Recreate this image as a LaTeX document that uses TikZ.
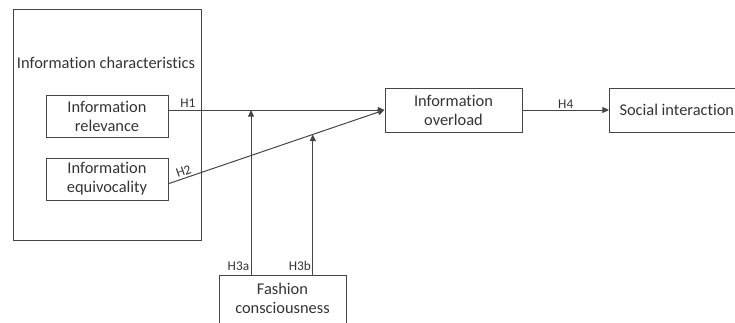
\documentclass[tikz,border=0pt]{standalone}
\usepackage{fontspec}
\setmainfont{Carlito}[Ligatures=NoCommon]
\usetikzlibrary{arrows.meta,positioning,calc}
\definecolor{lineg}{HTML}{454545}
\definecolor{textg}{HTML}{333333}

\begin{document}
\begin{tikzpicture}[
 x=0.75pt,y=-0.75pt,
 box/.style={rectangle,draw=lineg,line width=0.75pt,align=center,inner sep=0pt,text=textg,font=\fontsize{12.3}{14.3}\selectfont},
 var/.style={box,minimum width=91.5pt,minimum height=31.5pt},
 lbl/.style={text=textg,font=\fontsize{10}{12}\selectfont,inner sep=1.5pt},
 arr/.style={-{Triangle[length=5pt,width=4.5pt]},draw=lineg,line width=0.75pt}
]
\useasboundingbox (0,0) rectangle (735,322);
\node[box,minimum width=141pt,minimum height=173.25pt] (chars) at (107,124.5) {};
\node[text=textg,font=\fontsize{12.3}{14.3}\selectfont,inner sep=0pt] (charstitle) at (106,63) {Information characteristics};
\node[var] (rel) at (107,116) {Information\\relevance};
\node[var] (equ) at (107,179) {Information\\equivocality};
\node[box,minimum width=102.75pt,minimum height=33pt] (over) at (453.5,110) {Information\\overload};
\node[box,minimum width=101pt,minimum height=33pt,anchor=west,append after command={}] (soc) at (609,110) {Social interaction};
\node[box,minimum width=95.25pt,minimum height=40pt,anchor=north,text depth=6pt] (fash) at (282.5,275) {Fashion\\consciousness};

\coordinate (h2start) at ($(equ.east)+(0,-3.5pt)$);
\path (rel.east |- over.west) -- (over.west) coordinate[pos=0.382] (m1);
\path (h2start) -- (over.west) coordinate[pos=0.668] (m2);

\draw[arr] (rel.east |- over.west) -- node[lbl,above,pos=0.09]{H1} (over.west);
\draw[arr] (h2start) -- node[lbl,above,sloped,pos=0.08]{H2} (over.west);
\draw[arr] (m1 |- fash.north) -- node[lbl,above left,pos=0,inner sep=1pt,yshift=2pt]{H3a} (m1);
\draw[arr] (m2 |- fash.north) -- node[lbl,above left,pos=0,inner sep=1pt,yshift=2pt]{H3b} (m2);
\draw[arr] (over) -- node[lbl,above,inner sep=0.5pt]{H4} (soc);
\end{tikzpicture}
\end{document}
